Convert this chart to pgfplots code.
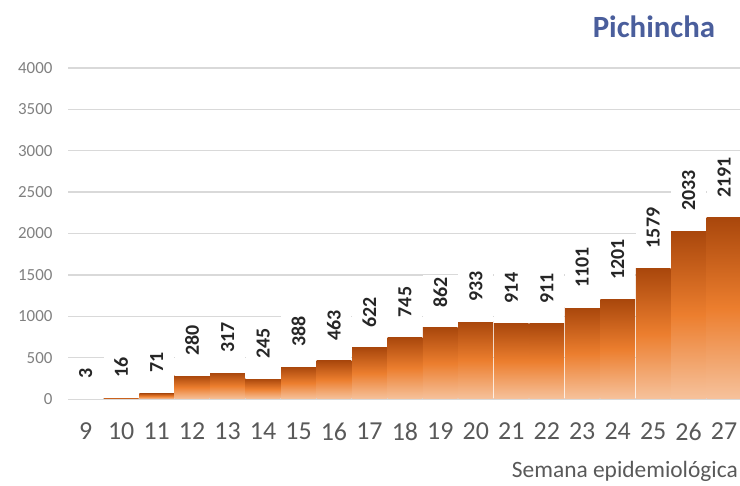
\documentclass[border=0pt]{standalone}
\usepackage{pgfplots}
\pgfplotsset{compat=1.18}
\usepackage{fontspec}
\setmainfont{Carlito}
\usetikzlibrary{shadings}
\definecolor{ttl}{HTML}{4A5E9C}
\definecolor{ytk}{HTML}{808080}
\definecolor{xtk}{HTML}{595959}
\definecolor{grd}{HTML}{D9D9D9}
\definecolor{btop}{HTML}{A9470C}
\definecolor{bmid}{HTML}{EC7E2E}
\definecolor{bbot}{HTML}{F6C29C}
\definecolor{lbl}{HTML}{262626}
\pgfplotsset{mybar/.style={ybar, bar width=0.98, draw=none, top color=btop, bottom color=bbot, middle color=bmid}}
\begin{document}
\begin{tikzpicture}[x=1bp,y=1bp]
\path[use as bounding box] (0,0) rectangle (740,486);
\begin{axis}[
  at={(68bp,87bp)}, anchor=south west,
  scale only axis, width=672bp, height=331bp,
  xmin=8.5, xmax=27.45, ymin=0, ymax=4000,
  ytick={0,500,...,4000},
  xtick={9,...,27},
  axis line style={draw=none},
  major tick length=0pt,
  ymajorgrids, grid style={grd, line width=1.4bp},
  /pgf/number format/1000 sep={},
  /pgf/number format/assume math mode=true,
  yticklabel style={font=\fontsize{17}{17}\selectfont, text=ytk, xshift=-12bp},
  xticklabel style={font=\fontsize{26}{26}\selectfont, text=xtk, yshift=-20bp},
  xlabel={Semana epidemiológica},
  xlabel style={at={(axis description cs:1,0)}, anchor=base east, yshift=-79bp, xshift=-2bp, font=\fontsize{23.5}{23.5}\selectfont, text=xtk, inner sep=0pt},
  title={Pichincha},
  title style={at={(axis description cs:0.872,1)}, anchor=base, yshift=25bp, font=\fontsize{31}{31}\selectfont\bfseries, text=ttl, inner sep=0pt},
  clip=false,
  nodes near coords={\hspace*{18bp}\pgfmathprintnumber{\pgfplotspointmeta}},
  nodes near coords style={rotate=90, anchor=west, fill=white, inner xsep=2bp, inner ysep=0pt, minimum height=35bp, font=\fontsize{20}{20}\selectfont\bfseries, text=lbl},
]
\addplot[mybar] coordinates {(9,3)};
\addplot[mybar] coordinates {(10,16)};
\addplot[mybar] coordinates {(11,71)};
\addplot[mybar] coordinates {(12,280)};
\addplot[mybar] coordinates {(13,317)};
\addplot[mybar] coordinates {(14,245)};
\addplot[mybar] coordinates {(15,388)};
\addplot[mybar] coordinates {(16,463)};
\addplot[mybar] coordinates {(17,622)};
\addplot[mybar] coordinates {(18,745)};
\addplot[mybar] coordinates {(19,862)};
\addplot[mybar] coordinates {(20,933)};
\addplot[mybar] coordinates {(21,914)};
\addplot[mybar] coordinates {(22,911)};
\addplot[mybar] coordinates {(23,1101)};
\addplot[mybar] coordinates {(24,1201)};
\addplot[mybar] coordinates {(25,1579)};
\addplot[mybar] coordinates {(26,2033)};
\addplot[mybar] coordinates {(27,2191)};
\end{axis}
\end{tikzpicture}
\end{document}
